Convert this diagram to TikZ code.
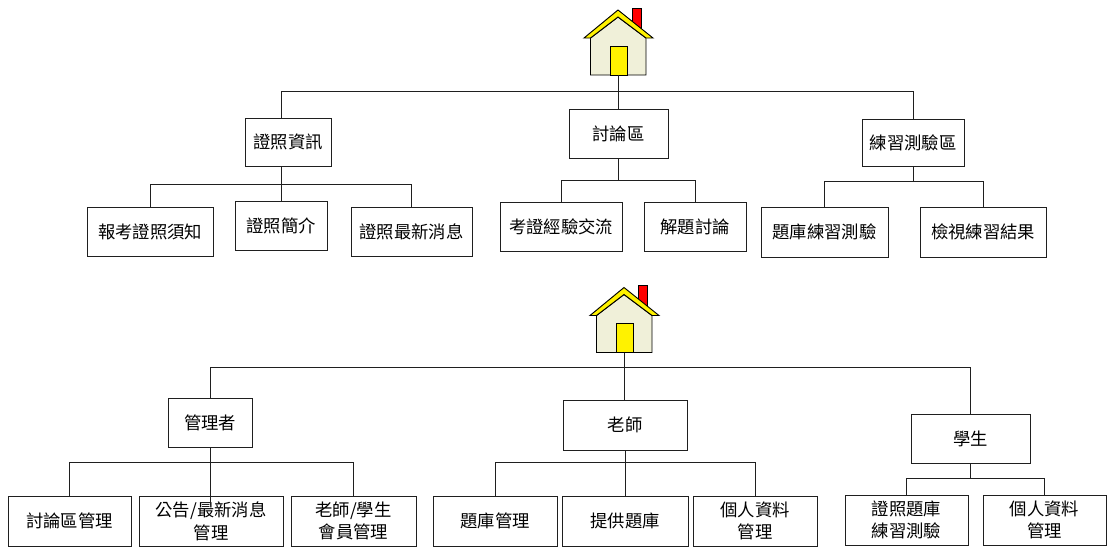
\documentclass[tikz,border=0pt]{standalone}
\usepackage{fontspec}
\setmainfont{Noto Sans CJK TC}[Scale=1]
\usepackage{xcolor}
\definecolor{wallcolor}{rgb}{0.94,0.94,0.85}
\definecolor{linecolor}{rgb}{0.12,0.12,0.12}
\tikzset{
  box/.style={draw=linecolor,line width=0.7pt,fill=white,inner sep=0pt,align=center,font=\fontsize{13pt}{17pt}\selectfont},
  sized/.style 2 args={minimum width=#1*0.75pt,minimum height=#2*0.75pt},
  tree/.style={draw=linecolor,line width=0.7pt},
  houseline/.style={draw=black,line width=0.7pt,line join=miter}
}
\begin{document}
\begin{tikzpicture}[line cap=butt,x=0.75pt,y=-0.75pt]
\useasboundingbox (0,0) rectangle (1107,547);
% houses
\foreach \n/\hx/\hy in {homeA/0/0,homeB/6/277.5}
{
\begin{scope}[shift={(\hx,\hy)}]
\draw[houseline,fill=red] (632,8) rectangle (641,30);
\draw[houseline,fill=wallcolor] (590.5,38) -- (618,17) -- (646,38) -- (646,75) -- (590.5,75) -- cycle;
\draw[houseline,fill=yellow] (584,38) -- (618,10) -- (653,38) -- (646,38) -- (618,17) -- (590.5,38) -- cycle;
\draw[houseline,fill=yellow] (610,46) rectangle (627,75);
\coordinate (\n) at (618,75);
\end{scope}
}
% upper tree
\node[box,sized={86}{48}] (info) at (288,142) {證照資訊};
\node[box,sized={99}{49}] (forum) at (618.5,133.5) {討論區};
\node[box,sized={102}{47}] (practice) at (913,142.5) {練習測驗區};
\node[box,sized={126}{49}] (notice) at (150,231.5) {報考證照須知};
\node[box,sized={92}{49}] (intro) at (281,225.5) {證照簡介};
\node[box,sized={121}{49}] (news) at (411.5,231.5) {證照最新消息};
\node[box,sized={122}{49}] (exchange) at (561,226.5) {考證經驗交流};
\node[box,sized={102}{49}] (solve) at (695,226.5) {解題討論};
\node[box,sized={127}{50}] (bank) at (824.5,232) {題庫練習測驗};
\node[box,sized={126}{50}] (result) at (983,232) {檢視練習結果};
\coordinate (busA) at (0,91);
\coordinate (busB) at (0,184);
\coordinate (busC) at (0,180);
\coordinate (busD) at (0,181);
\draw[tree] (homeA) -- (homeA |- forum.north);
\draw[tree] (intro.north |- info.north) -- (intro.north |- busA) -- (practice.north |- busA) -- (practice.north);
\draw[tree] (intro.north |- info.south) -- (intro.north);
\draw[tree] (notice.north) -- (notice.north |- busB) -- (news.north |- busB) -- (news.north);
\draw[tree] (forum.south) -- (forum.south |- busC);
\draw[tree] (exchange.north) -- (exchange.north |- busC) -- (solve.north |- busC) -- (solve.north);
\draw[tree] (practice.south) -- (practice.south |- busD);
\draw[tree] (bank.north) -- (bank.north |- busD) -- (result.north |- busD) -- (result.north);
% lower tree
\node[box,sized={84}{49}] (admin) at (210,422.5) {管理者};
\node[box,sized={124}{50}] (teacher) at (625,425) {老師};
\node[box,sized={119}{49}] (student) at (970.5,438.5) {學生};
\node[box,sized={123}{50}] (forumadmin) at (69.5,521) {討論區管理};
\node[box,sized={144}{50}] (newsadmin) at (211,521) {公告/最新消息\\管理};
\node[box,sized={125}{50}] (member) at (353.5,521) {老師/學生\\會員管理};
\node[box,sized={124}{50}] (bankadmin) at (495,521) {題庫管理};
\node[box,sized={126}{50}] (supply) at (625,521) {提供題庫};
\node[box,sized={124}{50}] (profileA) at (755,521) {個人資料\\管理};
\node[box,sized={123}{50}] (exam) at (906.5,520) {證照題庫\\練習測驗};
\node[box,sized={123}{50}] (profileB) at (1044.5,520) {個人資料\\管理};
\coordinate (busE) at (0,367);
\coordinate (busF) at (0,462);
\coordinate (busG) at (0,478);
\coordinate (tipA) at (0,505);
\draw[tree] (homeB) -- (homeB |- teacher.north);
\draw[tree] (admin.north) -- (admin.north |- busE) -- (student.north |- busE) -- (student.north);
\draw[tree] (admin.south) -- (admin.south |- tipA);
\draw[tree] (forumadmin.north) -- (forumadmin.north |- busF) -- (member.north |- busF) -- (member.north);
\draw[tree] (teacher.south) -- (supply.north);
\draw[tree] (bankadmin.north) -- (bankadmin.north |- busF) -- (profileA.north |- busF) -- (profileA.north);
\draw[tree] (student.south) -- (student.south |- busG);
\draw[tree] (exam.north) -- (exam.north |- busG) -- (profileB.north |- busG) -- (profileB.north);
\end{tikzpicture}
\end{document}
